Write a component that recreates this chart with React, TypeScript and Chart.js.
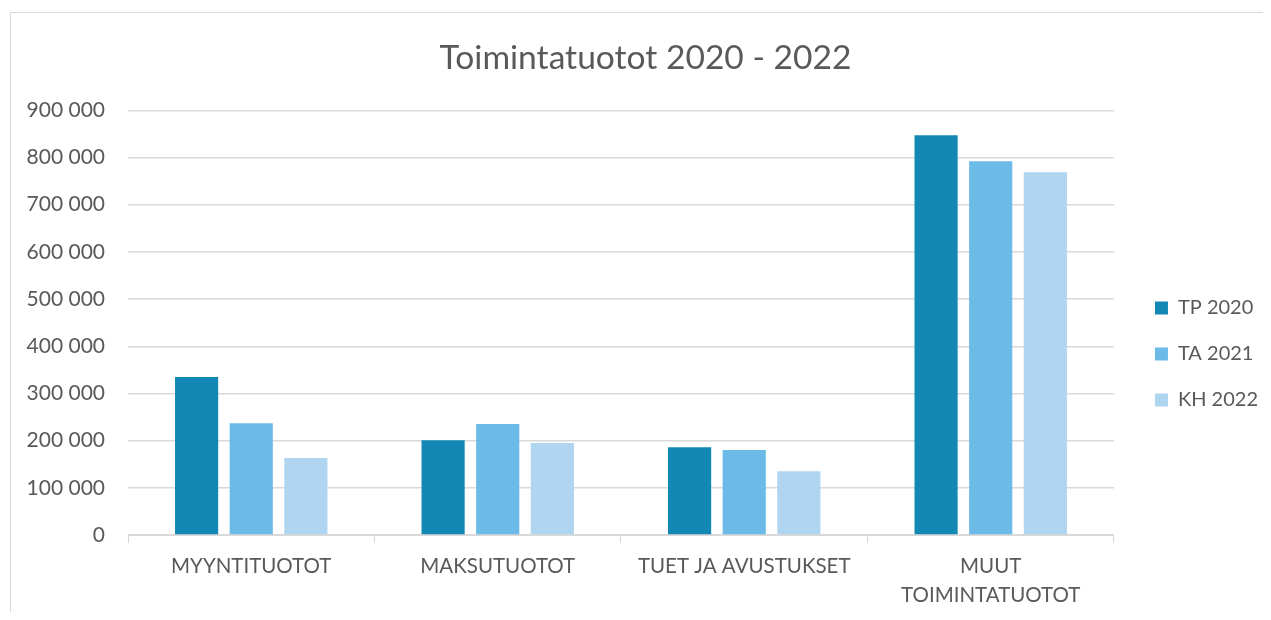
import React, { useEffect, useRef } from "react";
import { Chart, registerables } from "chart.js";

Chart.register(...registerables);

const categories: (string | string[])[] = [
  "MYYNTITUOTOT",
  "MAKSUTUOTOT",
  "TUET JA AVUSTUKSET",
  ["MUUT", "TOIMINTATUOTOT"],
];
const seriesNames = ["TP 2020", "TA 2021", "KH 2022"];
const tp2020 = [335000, 201000, 186000, 847000];
const ta2021 = [237000, 235000, 180000, 792000];
const kh2022 = [163000, 195000, 135000, 769000];
const colors = ["#1388B5", "#6CBAE8", "#B0D5F0"];
const titleText = "Toimintatuotot 2020 - 2022";

const FONT = "Lato, 'Open Sans', sans-serif";
const TEXT = "#595959";

const boxShift = {
  id: "boxShift",
  afterLayout(chart: any) {
    const lg = chart.legend;
    if (lg) {
      lg.left += 15;
      lg.right += 15;
      lg.top += 28;
      lg.bottom += 28;
    }
    const tb = chart.titleBlock;
    if (tb) {
      tb.left += 19;
      tb.right += 19;
    }
  },
};

export default function App() {
  const ref = useRef<HTMLCanvasElement | null>(null);
  useEffect(() => {
    if (!ref.current) return;
    const chart = new Chart(ref.current, {
      type: "bar",
      data: {
        labels: categories,
        datasets: [tp2020, ta2021, kh2022].map((d, i) => ({
          label: seriesNames[i],
          data: d,
          backgroundColor: colors[i],
          borderWidth: 0,
          categoryPercentage: 0.665,
          barPercentage: 0.79,
        })),
      },
      plugins: [boxShift],
      options: {
        responsive: false,
        animation: false,
        layout: { padding: { top: 33, bottom: 1, left: 0, right: 18 } },
        plugins: {
          title: {
            display: true,
            text: titleText,
            color: TEXT,
            font: { family: FONT, size: 33.6, weight: "normal" },
            padding: { top: 5, bottom: 32 },
          },
          legend: {
            position: "right",
            labels: {
              color: TEXT,
              font: { family: FONT, size: 20 },
              boxWidth: 13,
              boxHeight: 13,
              padding: 26,
            },
          },
          tooltip: { enabled: false },
        },
        scales: {
          x: {
            grid: {
              display: true,
              drawOnChartArea: false,
              drawTicks: true,
              tickLength: 8,
              color: "#d9d9d9",
              offset: true,
            },
            border: { display: true, color: "#d9d9d9", width: 1 },
            ticks: {
              color: TEXT,
              font: { family: FONT, size: 20.5, lineHeight: "29px" },
              padding: 9,
              maxRotation: 0,
              autoSkip: false,
            },
          },
          y: {
            min: 0,
            max: 900000,
            afterFit: (s: any) => {
              s.width = 128;
            },
            grid: { color: "#d9d9d9", drawTicks: false, lineWidth: 1.5 },
            border: { display: false },
            ticks: {
              stepSize: 100000,
              color: TEXT,
              padding: 23,
              font: { family: FONT, size: 21 },
              callback: (v: any) =>
                Number(v)
                  .toString()
                  .replace(/\B(?=(\d{3})+(?!\d))/g, " "),
            },
          },
        },
      },
    });
    return () => chart.destroy();
  }, []);

  return (
    <div
      style={{
        position: "relative",
        width: 1271,
        height: 620,
        margin: -8,
        overflow: "hidden",
        background: "#fff",
      }}
    >
      <div
        style={{
          position: "absolute",
          left: 10,
          top: 12,
          width: 1400,
          height: 800,
          border: "1px solid #d9d9d9",
        }}
      />
      <canvas
        ref={ref}
        width={1271}
        height={620}
        style={{ position: "absolute", left: 0, top: 0 }}
      />
    </div>
  );
}
